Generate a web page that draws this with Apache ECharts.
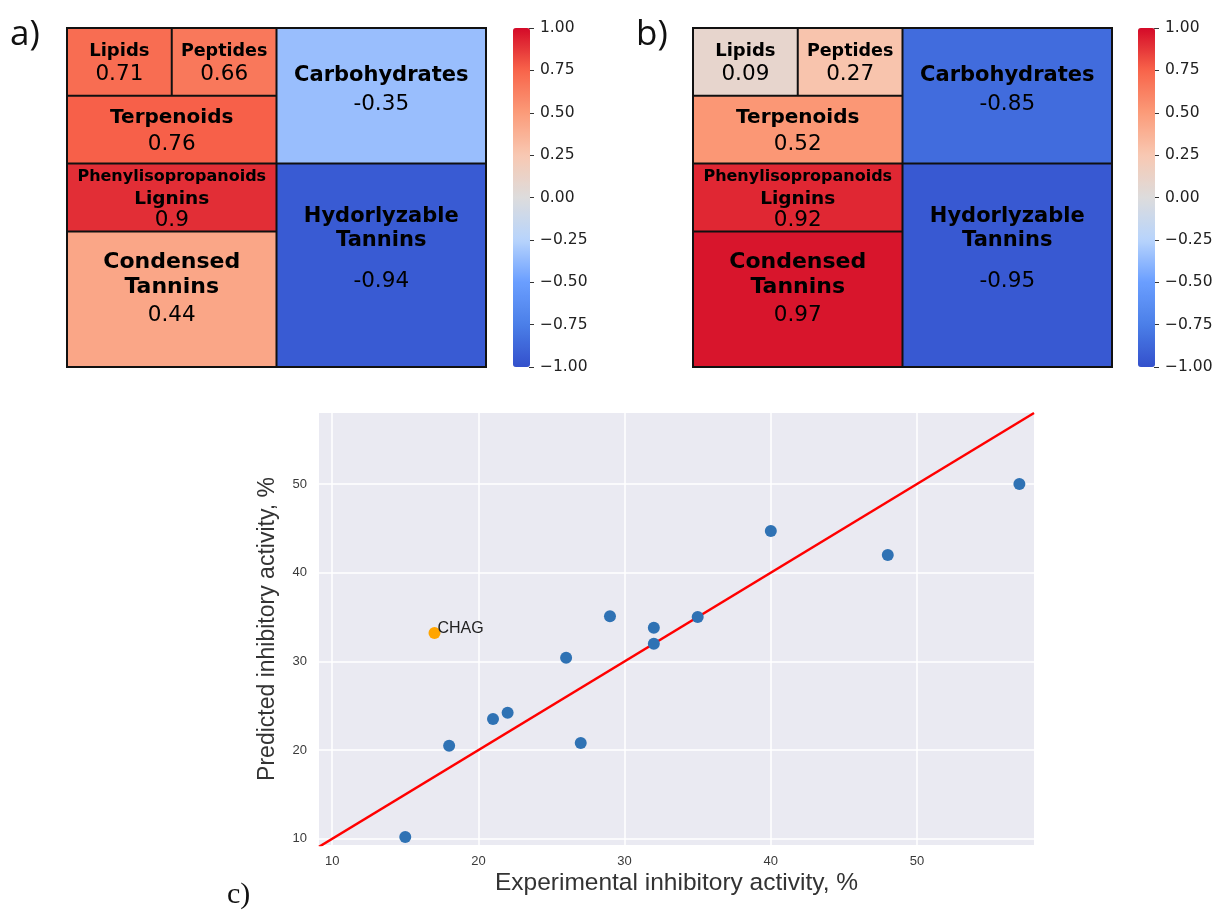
<!DOCTYPE html>
<html>
<head>
<meta charset="utf-8">
<script src="https://cdn.jsdelivr.net/npm/echarts@6/dist/echarts.min.js"></script>
<style>html,body{margin:0;padding:0;background:#fff}#c{width:1216px;height:911px}</style>
</head>
<body>
<div id="c"></div>
<script>
// ---- data ----
const categories = ['Lipids', 'Peptides', 'Terpenoids', 'Phenylisopropanoids\nLignins', 'Condensed\nTannins', 'Carbohydrates', 'Hydorlyzable\nTannins'];
const cellWeights = [1, 1, 2, 2, 4, 4, 6];
const corrA = [0.71, 0.66, 0.76, 0.9, 0.44, -0.35, -0.94];
const corrB = [0.09, 0.27, 0.52, 0.92, 0.97, -0.85, -0.95];
const colorbarRange = [-1, 1];
const expX = [15, 18, 21, 22, 26, 27, 29, 32, 32, 35, 40, 48, 57];
const predY = [10.2, 20.5, 23.5, 24.2, 30.4, 20.8, 35.1, 33.8, 32.0, 35.0, 44.7, 42.0, 50.0];
const outlierX = [17];
const outlierY = [33.2];
const outlierLabel = ['CHAG'];
const xRange = [9.1, 58];
const yRange = [9.3, 58];
const identityLine = [9.1, 58];

// ---- styles ----
const cmap = ['#3350CC', '#4B7FE8', '#6A9EFF', '#B8D4FC', '#DDDCDC', '#F8C8B2', '#FB9B79', '#F8644A', '#D40A28'];
const labelSpecs = [
  { size: [18], nameLH: 23, valLH: 23, dy: 10.5 },
  { size: [17.5], nameLH: 23, valLH: 23, dy: 10.5 },
  { size: [20], nameLH: 26, valLH: 26, dy: 8.4 },
  { size: [16, 18.5], nameLH: 21.5, valLH: 21.5, dy: 1.9 },
  { size: [22, 22], nameLH: 24.5, valLH: 32, dy: 18.1 },
  { size: [21], nameLH: 28, valLH: 28, dy: 33 },
  { size: [21, 21], nameLH: 24, valLH: 59, dy: 39.5 }
];

function labelFor(i, v) {
  const spec = labelSpecs[i];
  const lines = categories[i].split('\n');
  const rich = {};
  const parts = [];
  lines.forEach((ln, k) => {
    rich['n' + k] = { fontSize: spec.size[k], lineHeight: spec.nameLH, fontWeight: 'bold', fontFamily: 'DejaVu Sans', color: '#000' };
    parts.push('{n' + k + '|' + ln + '}');
  });
  rich.v = { fontSize: 21.5, lineHeight: spec.valLH, fontFamily: 'DejaVu Sans', color: '#000' };
  parts.push('{v|' + v + '}');
  return { show: true, position: 'inside', padding: 0, overflow: 'none', formatter: parts.join('\n'), rich: rich, offset: [0, spec.dy] };
}

function buildTree(corr) {
  const leaf = i => ({
    name: categories[i],
    value: cellWeights[i],
    itemStyle: { color: echarts.color.lerp((corr[i] - colorbarRange[0]) / (colorbarRange[1] - colorbarRange[0]), cmap), borderWidth: 1, borderColor: '#111' },
    label: labelFor(i, corr[i])
  });
  return [
    { name: 'g1', children: [
      { name: 'g11', children: [leaf(0), leaf(1)] },
      { name: 'g12', children: [leaf(2), { name: 'g121', children: [leaf(3), leaf(4)] }] }
    ] },
    { name: 'g2', children: [leaf(5), leaf(6)] }
  ];
}

function treemapSeries(left, corr) {
  return {
    type: 'treemap', left: left, top: 27, width: 421, height: 341,
    roam: false, nodeClick: false, breadcrumb: { show: false }, sort: false, squareRatio: 1.15,
    silent: true, animation: false,
    label: { show: true, position: 'inside', padding: 0, color: '#000' },
    upperLabel: { show: false },
    itemStyle: { borderWidth: 0, gapWidth: 0, borderColor: '#111' },
    levels: [{ itemStyle: { borderWidth: 1, borderColor: '#111', gapWidth: 0 } }],
    data: buildTree(corr)
  };
}

const cbLabel = v => (v < 0 ? '\u2212' : '') + Math.abs(v).toFixed(2);

function cbAxis(gi) {
  return {
    gridIndex: gi, type: 'value', position: 'right', min: colorbarRange[0], max: colorbarRange[1], interval: 0.25,
    axisLine: { show: false }, splitLine: { show: false },
    axisTick: { show: true, length: 5, lineStyle: { color: '#333', width: 1 } },
    axisLabel: { formatter: cbLabel, fontSize: 15.5, color: '#222', margin: 10, fontFamily: 'DejaVu Sans' }
  };
}

function cbMap(left) {
  return {
    type: 'continuous', min: colorbarRange[0], max: colorbarRange[1], seriesIndex: [], orient: 'vertical',
    left: left, top: 28, itemWidth: 17, itemHeight: 339, calculable: false, padding: 0,
    inRange: { color: cmap }, hoverLink: false
  };
}

const tickLabel = { color: '#3a3a3a', fontSize: 13, fontFamily: 'Liberation Sans', showMinLabel: false, showMaxLabel: false };
const gridSplit = { show: true, lineStyle: { color: '#fff', width: 1.5 }, showMinLine: false, showMaxLine: false };

const option = {
  animation: false,
  backgroundColor: '#fff',
  title: [
    { text: 'a)', left: 10, top: 18, padding: 0, textStyle: { fontSize: 35, fontWeight: 'normal', color: '#111', fontFamily: 'Open Sans' } },
    { text: 'b)', left: 636, top: 18, padding: 0, textStyle: { fontSize: 35, fontWeight: 'normal', color: '#111', fontFamily: 'Open Sans' } },
    { text: 'c)', left: 227, top: 880, padding: 0, textStyle: { fontSize: 30, fontWeight: 'normal', color: '#111', fontFamily: 'Liberation Serif' } }
  ],
  visualMap: [cbMap(513), cbMap(1138)],
  grid: [
    { left: 319, top: 413, width: 715, height: 432, show: true, backgroundColor: '#EAEAF2', borderWidth: 0 },
    { left: 529, top: 28, width: 1, height: 339, show: false },
    { left: 1154, top: 28, width: 1, height: 339, show: false }
  ],
  xAxis: [
    { gridIndex: 0, type: 'value', min: xRange[0], max: xRange[1], minInterval: 10, maxInterval: 10,
      axisLine: { show: false }, axisTick: { show: false }, axisLabel: Object.assign({ margin: 10 }, tickLabel), splitLine: gridSplit,
      name: 'Experimental inhibitory activity, %', nameLocation: 'middle', nameGap: 26,
      nameTextStyle: { fontSize: 24.5, color: '#333', fontFamily: 'Liberation Sans' } },
    { gridIndex: 1, type: 'value', show: false, min: 0, max: 1 },
    { gridIndex: 2, type: 'value', show: false, min: 0, max: 1 }
  ],
  yAxis: [
    { gridIndex: 0, type: 'value', min: yRange[0], max: yRange[1], minInterval: 10, maxInterval: 10,
      axisLine: { show: false }, axisTick: { show: false }, axisLabel: Object.assign({ margin: 12 }, tickLabel), splitLine: gridSplit,
      name: 'Predicted inhibitory activity, %', nameLocation: 'middle', nameGap: 40, nameRotate: 90,
      nameTextStyle: { fontSize: 23, color: '#333', fontFamily: 'Liberation Sans' } },
    cbAxis(1),
    cbAxis(2)
  ],
  series: [
    treemapSeries(66, corrA),
    treemapSeries(692, corrB),
    { type: 'line', xAxisIndex: 0, yAxisIndex: 0, data: identityLine.map(v => [v, v]), showSymbol: false, silent: true,
      lineStyle: { color: '#FF0000', width: 2.5 }, z: 2 },
    { type: 'scatter', xAxisIndex: 0, yAxisIndex: 0, data: expX.map((x, i) => [x, predY[i]]), symbolSize: 12,
      itemStyle: { color: '#2F72B4', opacity: 1 }, z: 3 },
    { type: 'scatter', xAxisIndex: 0, yAxisIndex: 0, data: outlierX.map((x, i) => ({ value: [x, outlierY[i]], name: outlierLabel[i] })), symbolSize: 12,
      itemStyle: { color: '#FFA500', opacity: 1 }, z: 3,
      label: { show: true, formatter: p => p.name, position: 'right', distance: -3, offset: [0, -4], color: '#222', fontSize: 16, fontFamily: 'Liberation Sans' } }
  ]
};

const chart = echarts.init(document.getElementById('c'), null, { renderer: 'canvas' });
chart.setOption(option);
</script>
</body>
</html>
